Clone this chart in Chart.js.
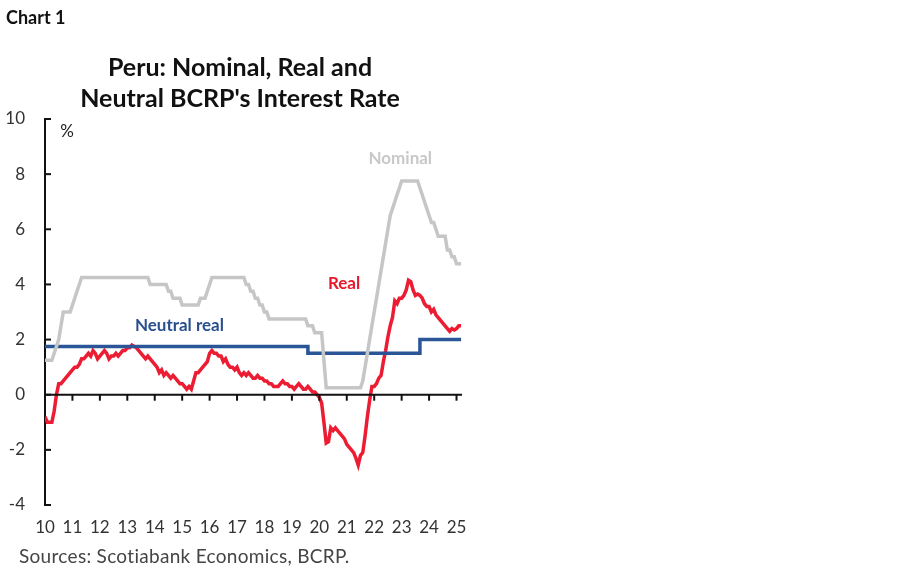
<!DOCTYPE html>
<html><head><meta charset="utf-8">
<script src="https://cdn.jsdelivr.net/npm/chart.js@4"></script>
<style>
body{margin:0;width:900px;height:579px;background:#fff;font-family:Lato,"Open Sans",sans-serif;position:relative;overflow:hidden}
#c1{position:absolute;left:6px;top:6px;font-weight:bold;font-size:18px;color:#111}
#t{position:absolute;left:40px;width:400px;top:51px;text-align:center;font-weight:bold;font-size:25px;line-height:31px;color:#111}
#src{position:absolute;left:19px;top:544px;font-size:19px;color:#444;letter-spacing:0.3px}
#c{position:absolute;left:0;top:0}
</style></head><body>
<canvas id="c" width="900" height="579"></canvas>
<div id="c1">Chart 1</div>
<div id="t">Peru: Nominal, Real and<br>Neutral BCRP's Interest Rate</div>
<div id="src">Sources: Scotiabank Economics, BCRP.</div>
<script>
const startYear = 10;
const yearTicks = [10,11,12,13,14,15,16,17,18,19,20,21,22,23,24,25];
const yTicks = [-4,-2,0,2,4,6,8,10];
const nominal = [
1.25,1.25,1.25,1.25,1.5,1.75,2,2.5,3,3,3,3,
3.25,3.5,3.75,4,4.25,4.25,4.25,4.25,4.25,4.25,4.25,4.25,
4.25,4.25,4.25,4.25,4.25,4.25,4.25,4.25,4.25,4.25,4.25,4.25,
4.25,4.25,4.25,4.25,4.25,4.25,4.25,4.25,4.25,4.25,4,4,
4,4,4,4,4,4,3.75,3.75,3.5,3.5,3.5,3.5,
3.25,3.25,3.25,3.25,3.25,3.25,3.25,3.25,3.5,3.5,3.5,3.75,
4,4.25,4.25,4.25,4.25,4.25,4.25,4.25,4.25,4.25,4.25,4.25,
4.25,4.25,4.25,4.25,4,4,3.75,3.75,3.5,3.5,3.25,3.25,
3,3,2.75,2.75,2.75,2.75,2.75,2.75,2.75,2.75,2.75,2.75,
2.75,2.75,2.75,2.75,2.75,2.75,2.75,2.5,2.5,2.5,2.25,2.25,
2.25,2.25,1.25,0.25,0.25,0.25,0.25,0.25,0.25,0.25,0.25,0.25,
0.25,0.25,0.25,0.25,0.25,0.25,0.25,0.5,1,1.5,2,2.5,
3,3.5,4,4.5,5,5.5,6,6.5,6.75,7,7.25,7.5,
7.75,7.75,7.75,7.75,7.75,7.75,7.75,7.75,7.5,7.25,7,6.75,
6.5,6.25,6.25,6,5.75,5.75,5.75,5.75,5.25,5.25,5,5,
4.75,4.75,4.75];
const real = [
-0.8,-1.0,-1.0,-1.0,-0.6,0.0,0.4,0.4,0.5,0.6,0.7,0.8,
0.9,1.0,1.0,1.1,1.3,1.3,1.4,1.5,1.4,1.6,1.5,1.3,
1.4,1.5,1.6,1.5,1.3,1.4,1.4,1.5,1.4,1.5,1.6,1.6,
1.7,1.7,1.8,1.75,1.7,1.6,1.5,1.4,1.3,1.4,1.3,1.2,
1.1,1.0,0.8,0.9,0.7,0.8,0.7,0.6,0.7,0.6,0.5,0.4,
0.4,0.3,0.2,0.3,0.2,0.5,0.8,0.8,0.9,1.0,1.1,1.2,
1.5,1.6,1.5,1.5,1.4,1.4,1.2,1.3,1.1,1.0,1.0,0.9,
1.0,0.8,0.7,0.8,0.7,0.8,0.7,0.6,0.6,0.7,0.6,0.6,
0.5,0.5,0.4,0.4,0.3,0.3,0.3,0.4,0.5,0.4,0.4,0.3,
0.3,0.2,0.3,0.4,0.3,0.2,0.2,0.3,0.2,0.1,0.1,0.0,
-0.1,-0.3,-1.0,-1.75,-1.7,-1.2,-1.3,-1.2,-1.3,-1.4,-1.5,-1.6,
-1.8,-1.9,-2.0,-2.1,-2.3,-2.55,-2.2,-2.1,-1.5,-0.8,-0.2,0.3,
0.3,0.4,0.6,0.7,1.2,1.6,2.1,2.5,2.8,3.4,3.3,3.5,
3.5,3.6,3.8,4.15,4.1,3.8,3.6,3.65,3.6,3.5,3.3,3.2,
3.2,3.0,3.1,2.9,2.8,2.7,2.6,2.5,2.4,2.3,2.4,2.35,
2.4,2.5,2.5];
const neutral = [];
for (let i=0;i<real.length;i++){ neutral.push(i<115?1.75:(i<164?1.5:2.0)); }
const toPts = arr => arr.map((v,i)=>({x:startYear+i/12,y:v}));

const annot = {id:'annot',afterDatasetsDraw(ch){
  const {ctx,scales:{x,y}}=ch;
  ctx.save();
  const y0=y.getPixelForValue(0);
  ctx.strokeStyle='#111';ctx.lineWidth=2;
  ctx.beginPath();ctx.moveTo(x.getPixelForValue(10),y0);ctx.lineTo(x.getPixelForValue(25.2),y0);ctx.stroke();
  yearTicks.forEach(t=>{const px=x.getPixelForValue(t);ctx.beginPath();ctx.moveTo(px,y0);ctx.lineTo(px,y0+6);ctx.stroke();});
  const xl=x.getPixelForValue(10);
  yTicks.forEach(t=>{const py=y.getPixelForValue(t);ctx.beginPath();ctx.moveTo(xl,py);ctx.lineTo(xl+6,py);ctx.stroke();});
  ctx.font='bold 17px Lato, "Open Sans", sans-serif';ctx.textAlign='center';ctx.textBaseline='middle';
  ctx.fillStyle='#c8c8c8';ctx.fillText('Nominal',x.getPixelForValue(22.95),y.getPixelForValue(8.55));
  ctx.fillStyle='#e8192c';ctx.fillText('Real',x.getPixelForValue(20.9),y.getPixelForValue(4.05));
  ctx.fillStyle='#2a4f8f';ctx.fillText('Neutral real',x.getPixelForValue(14.9),y.getPixelForValue(2.5));
  ctx.fillStyle='#222';ctx.font='17px Lato, "Open Sans", sans-serif';ctx.fillText('%',x.getPixelForValue(10.8),y.getPixelForValue(9.55));
  ctx.restore();
}};

new Chart(document.getElementById('c'),{
  type:'line',
  data:{datasets:[
    {data:toPts(nominal),borderColor:'#c6c6c6',borderWidth:3.5,pointRadius:0,tension:0},
    {data:toPts(neutral),borderColor:'#2a5596',borderWidth:3.5,pointRadius:0,tension:0,stepped:true},
    {data:toPts(real),borderColor:'#ec1c33',borderWidth:3.5,pointRadius:0,tension:0}
  ]},
  options:{responsive:false,animation:false,devicePixelRatio:1,
    layout:{padding:{top:119,bottom:40,left:0,right:438}},
    plugins:{legend:{display:false},tooltip:{enabled:false}},
    scales:{
      x:{type:'linear',min:10,max:25.2,afterFit(s){s.height=34;},
        afterBuildTicks(s){s.ticks=yearTicks.map(v=>({value:v}));},
        grid:{display:false},border:{display:false},
        ticks:{color:'#333',font:{size:17,family:'Lato'},padding:4,maxRotation:0,callback:v=>String(v)}},
      y:{min:-4,max:10,afterFit(s){s.width=45;},
        afterBuildTicks(s){s.ticks=yTicks.map(v=>({value:v}));},
        grid:{display:false},
        border:{display:true,color:'#111',width:2},
        ticks:{color:'#333',font:{size:17,family:'Lato'},padding:12}}
    }},
  plugins:[annot]
});
</script></body></html>
